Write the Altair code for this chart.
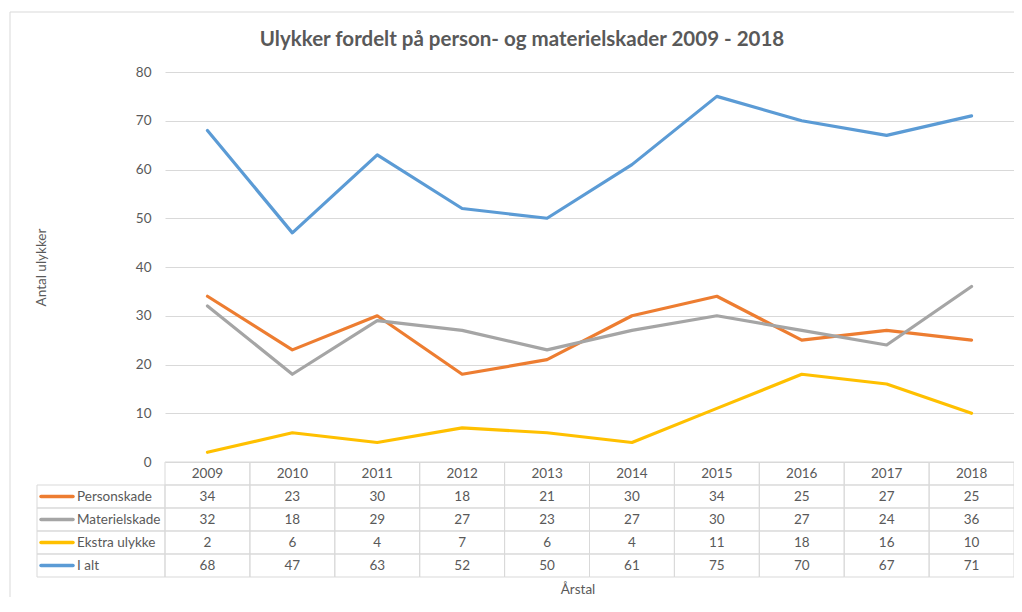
import altair as alt
import pandas as pd

# ---------------- data ----------------
years = [str(y) for y in range(2009, 2019)]
series = ["Personskade", "Materielskade", "Ekstra ulykke", "I alt"]
personskade = [34, 23, 30, 18, 21, 30, 34, 25, 27, 25]
materielskade = [32, 18, 29, 27, 23, 27, 30, 27, 24, 36]
ekstra_ulykke = [2, 6, 4, 7, 6, 4, 11, 18, 16, 10]
i_alt = [68, 47, 63, 52, 50, 61, 75, 70, 67, 71]
colors = ["#ED7D31", "#A5A5A5", "#FFC000", "#5B9BD5"]
y_ticks = [0, 10, 20, 30, 40, 50, 60, 70, 80]
title_text = "Ulykker fordelt på person- og materielskader 2009 - 2018"
y_title = "Antal ulykker"
x_title = "Årstal"

rows = []
for s, vals in zip(series, [personskade, materielskade, ekstra_ulykke, i_alt]):
    for yr, v in zip(years, vals):
        rows.append({"year": yr, "series": s, "value": v, "row": s})
df = pd.DataFrame(rows)
hdr = pd.DataFrame({"year": years, "row": ["header"] * len(years)})
labels = pd.DataFrame({"row": series, "series": series})
one = pd.DataFrame({"k": [0]})

# ---------------- layout ----------------
W, H_LINE, H_TAB = 849, 390, 115
FONT = "Lato"
FS = 13.5
TXT = "#595959"
GRID = "#D9D9D9"
row_domain = ["header"] + series

xenc = alt.X("year:N", scale=alt.Scale(type="band", domain=years, paddingInner=0, paddingOuter=0), axis=None)
yrow_scale = alt.Scale(type="band", domain=row_domain, range=[H_LINE, H_LINE + H_TAB], paddingInner=0, paddingOuter=0)
yrow = alt.Y("row:N", scale=yrow_scale, axis=None)
yrow_c = alt.Y("row:N", scale=yrow_scale, axis=None, bandPosition=0.5)
color = alt.Color("series:N", scale=alt.Scale(domain=series, range=colors), legend=None)

lines = alt.Chart(df).mark_line(strokeWidth=3.2, strokeJoin="round", strokeCap="round").encode(
    x=xenc,
    y=alt.Y("value:Q",
            scale=alt.Scale(domain=[0, 80], range=[H_LINE, 0], nice=False, zero=True),
            axis=alt.Axis(values=y_ticks, title=y_title, grid=True, gridColor=GRID, gridWidth=1,
                          domain=False, ticks=False, labelPadding=14, labelFontSize=FS,
                          labelColor=TXT, labelFont=FONT, titleFont=FONT, titleFontSize=FS,
                          titleFontWeight="normal", titleColor=TXT, titleX=-124, titleY=195,
                          titleAngle=270, titleAlign="center", titleBaseline="middle")),
    color=color,
)

hdr_cells = alt.Chart(hdr).mark_rect(fillOpacity=0, stroke=GRID, strokeWidth=1).encode(x=xenc, y=yrow)
val_cells = alt.Chart(df).mark_rect(fillOpacity=0, stroke=GRID, strokeWidth=1).encode(x=xenc, y=yrow)
lab_cells = alt.Chart(labels).mark_rect(fillOpacity=0, stroke=GRID, strokeWidth=1).encode(
    x=alt.value(-128), x2=alt.value(0), y=yrow)

hdr_text = alt.Chart(hdr).mark_text(font=FONT, fontSize=FS, color=TXT).encode(x=xenc, y=yrow_c, text="year:N")
val_text = alt.Chart(df).mark_text(font=FONT, fontSize=FS, color=TXT).encode(x=xenc, y=yrow_c, text="value:Q")
lab_text = alt.Chart(labels).mark_text(font=FONT, fontSize=FS, color=TXT, align="left").encode(
    x=alt.value(-88), y=yrow_c, text="row:N")
swatch = alt.Chart(labels).mark_rule(strokeWidth=3.5, strokeCap="round").encode(
    x=alt.value(-124), x2=alt.value(-92), y=yrow_c, color=color)

border_l = alt.Chart(one).mark_rule(color=GRID, strokeWidth=1).encode(
    x=alt.value(-155), y=alt.value(-60), y2=alt.value(H_LINE + H_TAB + 60))
border_t = alt.Chart(one).mark_rule(color=GRID, strokeWidth=1).encode(
    x=alt.value(-155), x2=alt.value(W + 60), y=alt.value(-60))

title = alt.Chart(one).mark_text(font=FONT, fontSize=20.5, fontWeight="bold", color=TXT).encode(
    x=alt.value(357), y=alt.value(-32), text=alt.value(title_text))
xt = alt.Chart(one).mark_text(font=FONT, fontSize=FS, color=TXT).encode(
    x=alt.value(413), y=alt.value(H_LINE + H_TAB + 13), text=alt.value(x_title))

chart = alt.layer(
    border_l, border_t, lines, hdr_cells, val_cells, lab_cells,
    hdr_text, val_text, lab_text, swatch, title, xt
).resolve_scale(y="independent").properties(
    width=W, height=H_LINE + H_TAB,
    autosize=alt.AutoSizeParams(type="none"),
    padding={"left": 157, "top": 64, "right": 0, "bottom": 20},
    background="white",
).configure_view(stroke=None)

chart.save("out.html", embed_options={"renderer": "svg", "actions": False})
